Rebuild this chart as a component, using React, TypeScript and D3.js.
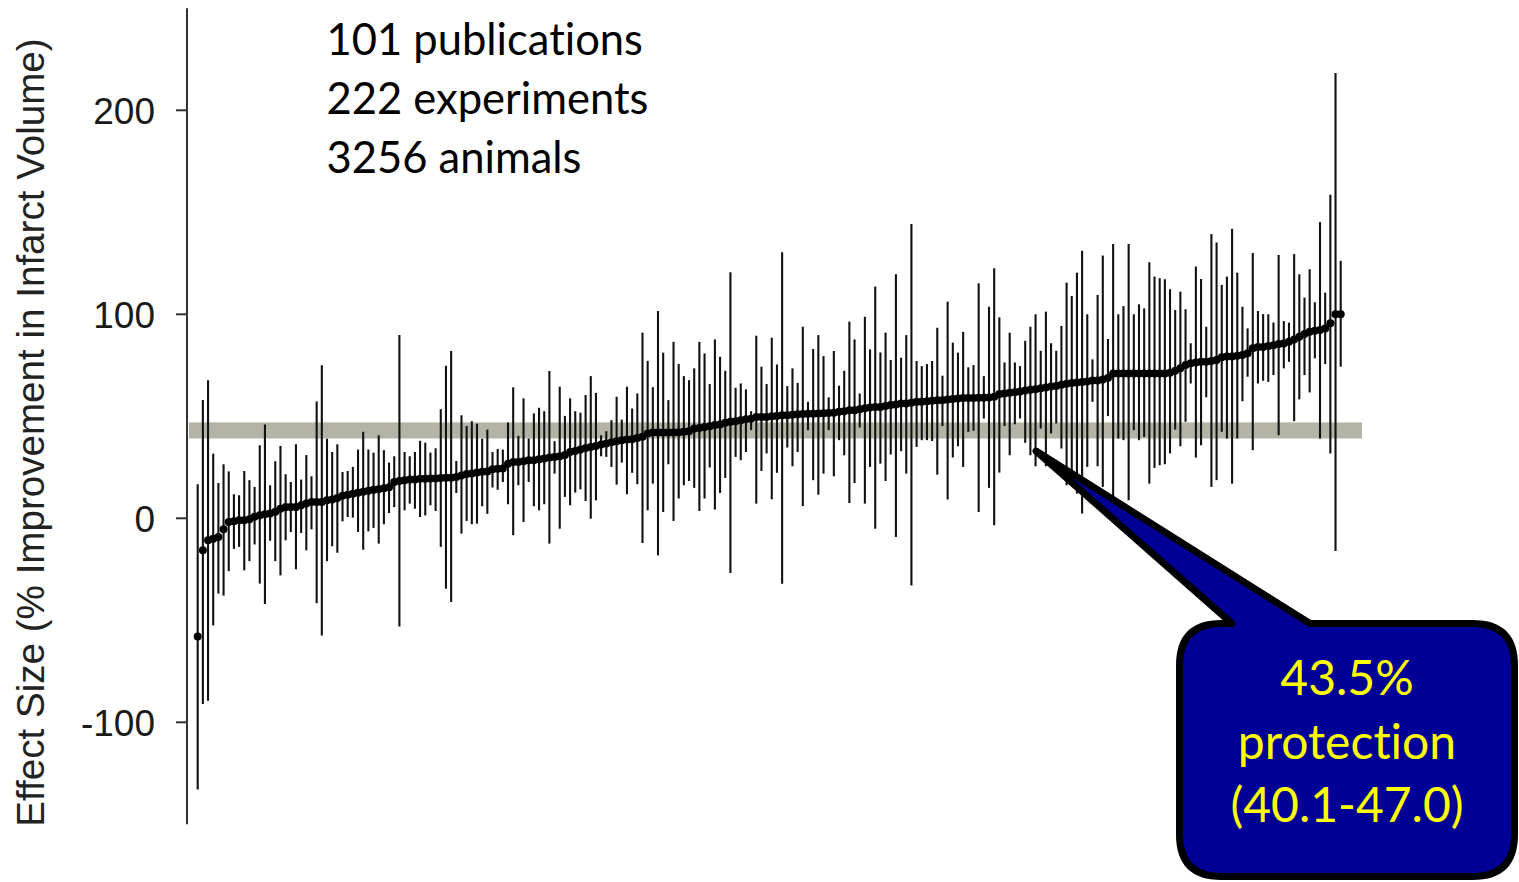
import React from "react";
import * as d3 from "d3";

// Per-experiment effect sizes (% improvement in infarct volume), ranked low → high
const effect: number[] = [
  -58, -15.7, -10.8, -10, -9.2, -5.4, -1.8, -1.5, -1, -1,
  -0.5, 0.7, 1.5, 2, 2.3, 3.2, 4.7, 5.5, 5.5, 5.5,
  6.4, 7.2, 8, 8, 8, 8.8, 9.2, 10, 11, 11.5,
  12, 12.5, 13, 13.5, 14, 14.3, 14.7, 15.2, 17.8, 18.3,
  18.7, 19, 19, 19.4, 19.4, 19.5, 19.5, 19.7, 19.9, 19.9,
  20.3, 21, 21.7, 22, 22.4, 22.8, 23, 24, 24.3, 24.4,
  26.8, 27.6, 27.6, 28, 28.5, 28.5, 29, 29.3, 29.8, 30.1,
  30.4, 31, 32.5, 33, 33.7, 34.5, 35, 35.5, 36.2, 36.7,
  37.3, 37.8, 38.2, 38.6, 38.8, 39.4, 40, 41.6, 42, 42,
  42, 42.1, 42.1, 42.2, 42.4, 42.7, 44, 44.3, 44.8, 45.1,
  45.7, 46, 46.8, 47.3, 47.6, 48.1, 48.6, 48.8, 49.7, 49.7,
  49.7, 50, 50.2, 50.5, 50.5, 50.8, 51, 51.1, 51.2, 51.3,
  51.4, 51.5, 51.6, 51.8, 52.2, 52.5, 53, 53, 53.5, 54,
  54.3, 54.5, 54.6, 55, 55.5, 55.8, 56.3, 56.3, 56.6, 57.1,
  57.1, 57.4, 57.6, 57.9, 57.9, 58.2, 58.5, 58.7, 59, 59,
  59, 59.1, 59.1, 59.2, 59.6, 60.9, 61.2, 61.5, 61.8, 62.1,
  62.6, 63, 63.2, 63.8, 64.1, 64.6, 64.9, 65.5, 66, 66.3,
  66.6, 66.8, 67.1, 67.5, 67.6, 68, 68.8, 71, 71, 71,
  71, 71, 71, 71, 71, 71, 71, 71, 71.3, 72.3,
  73.5, 75.1, 76, 76.4, 76.7, 76.7, 77.1, 77.6, 78.9, 79.3,
  79.3, 79.7, 80, 80.9, 83.3, 84, 84, 84.4, 84.8, 85.4,
  85.7, 86.6, 87.7, 89, 90.3, 91.5, 91.9, 92.3, 93.1, 95.6,
  100, 100,
];

// Lower 95% confidence limits
const lower: number[] = [
  -133, -91, -89.4, -52.5, -36.9, -37.9, -25.9, -15, -14, -25.5,
  -21, -12.8, -32, -42, -11, -21, -28, -10.8, -6.7, -25,
  -7.2, -15.7, -5.4, -41.6, -57.4, -21, -13.7, -16.9, -1.5, 0.6,
  0.3, -6.7, -15.4, -6.4, -4.7, -12.4, -2.9, 2.6, 5.5, -53,
  3.9, 7.2, 4.7, 0.6, 1.4, 6.4, 3.6, -14, -34.5, -41,
  12.4, -7.5, -1.3, -2.9, -2.6, 5.9, 2.2, 15.1, 14, 17.8,
  6.9, -8.3, 16.2, -1.8, 17.8, 5.9, 3.9, 6.9, -12.4, 21.9,
  -5.1, 10.5, 6.4, 12.6, 14.2, 8.5, -0.2, 8.8, 30.4, 30.1,
  25.2, 16.5, 27.3, 11.8, 22.3, 16.7, -12.1, 3.9, 17, -18.2,
  3.1, 26.5, -1.3, 9.7, 16.2, 18.3, 14.9, 3.6, 9.7, 24.9,
  4.3, 12.4, 19.8, -26.8, 30.1, 28.5, 32.5, 43.2, 7.2, 23.2,
  31.8, 9.3, 22.3, -32.1, 34.7, 25.5, 32.5, 6, 43.2, 18.7,
  11.6, 21.9, 43.2, 20.6, 38.3, 30.9, 7.5, 17.3, 44.5, 7.2,
  25.2, -5.1, 26.8, 18.3, 31.3, -9.2, 32.9, 21.9, -32.9, 35,
  38.3, 38.3, 37.9, 21.4, 45.2, 9.2, 29.8, 35.3, 25.2, 42.4,
  42.9, 3.1, 48.9, 14.9, -3.4, 22.4, 45.2, 30.9, 46.1, 48.9,
  37, 30.9, 25.5, 44, 25.5, 41.6, 46.5, 34.2, 16.2, 21.9,
  12.1, 2.3, 25.2, 57.1, 25.5, 15.4, 50.1, 2, 39.1, 38.3,
  8.8, 43.2, 38.3, 39.9, 17, 24.7, 26, 26.5, 31.8, 43.5,
  35.3, 47.3, 66.1, 29.8, 35.8, 59.3, 15.4, 18.7, 42.4, 39.1,
  17, 39.1, 57.4, 69.4, 33.4, 66.1, 67.4, 66.9, 70.2, 40.7,
  73.5, 76.7, 47.6, 58.3, 70.2, 61.7, 78.4, 39.1, 75.6, 31.8,
  -16, 74.3,
];

// Upper 95% confidence limits
const upper: number[] = [
  16.7, 58, 67.7, 31.7, 17.3, 26.5, 23, 11.8, 11.3, 23.2,
  18.7, 15.4, 35.8, 46, 16.2, 28, 35.5, 21.6, 17.8, 36.3,
  19, 31, 20.6, 57.3, 75, 39, 32.5, 36.3, 22.7, 23.2,
  25.2, 33.7, 42.4, 33.7, 32.2, 40.7, 33.4, 27.3, 30.4, 89.8,
  32.5, 30.4, 32.5, 38, 37.1, 32.2, 34.3, 53.5, 74.8, 82,
  28.1, 50.5, 45.2, 47.6, 46.4, 39, 43.5, 32.5, 34, 33.7,
  47, 64.2, 40.4, 58.8, 39.1, 51.4, 54.2, 52.5, 72.2, 37.8,
  64.5, 50.2, 58.8, 52.5, 51.8, 60.4, 69.7, 61.5, 40.7, 42.7,
  48.1, 59.6, 48.4, 64.5, 53.8, 61.2, 91, 77.2, 64.3, 101.6,
  81.2, 57.9, 86.5, 75.6, 69.7, 67.7, 73.5, 86.5, 80.8, 65.8,
  87.7, 79.2, 72.3, 120.6, 64, 66.1, 63.2, 52.5, 89.5, 74.3,
  65.8, 88.5, 75.4, 130.4, 64.8, 73.5, 66.4, 93.9, 57.1, 83,
  89.8, 79.5, 59.3, 82, 65, 72.3, 96.4, 87.7, 61.2, 98.8,
  82.8, 113.6, 81.3, 91, 77.6, 119.6, 78.7, 89.8, 144.3, 77.1,
  74.6, 75.6, 77.1, 93.4, 69.9, 106.2, 86.1, 81.2, 91.4, 74,
  75.1, 115.2, 69.7, 103.7, 122.6, 98.5, 76.4, 91, 76.4, 74.6,
  87, 93.9, 100, 82.1, 101.3, 85.8, 82.1, 94.3, 115.5, 109,
  120.4, 131.1, 100, 77.9, 109.5, 128.8, 87.9, 134.4, 100, 104,
  134.5, 100, 104.9, 102.9, 125.5, 118.5, 117.7, 117.2, 112.3, 102.1,
  111.1, 102.5, 85.8, 123.4, 117.3, 93.9, 139.3, 135.2, 114.4, 118.5,
  141.9, 120.4, 103.7, 93.1, 130, 101.6, 100.1, 100, 96, 129.1,
  96.7, 95.9, 129.5, 119.6, 108.2, 122.1, 105.9, 145.2, 110.6, 158.6,
  218.3, 126.2,
];

// Pooled estimate and its confidence interval
const pooled = { estimate: 43.5, low: 40.1, high: 47.0 };

const yTicks: number[] = [-100, 0, 100, 200];
const summaryLines: string[] = ["101 publications", "222 experiments", "3256 animals"];
const calloutLines: string[] = ["43.5%", "protection", "(40.1-47.0)"];
const yTitle = "Effect Size (% Improvement in Infarct Volume)";

const W = 1519;
const H = 882;

const noLigatures: React.CSSProperties = {
  fontVariantLigatures: "none",
  fontFeatureSettings: '"liga" 0, "clig" 0',
};

export default function App() {
  const y = d3.scaleLinear().domain([-150, 250]).range([824.3, 8.3]);
  const idx = d3.range(effect.length);
  const x = d3.scalePoint<number>().domain(idx).range([197.7, 1340.7]);
  const axisX = 187;

  // Speech-bubble callout: rounded box with a wedge pointing at the pooled estimate
  const bx0 = 1179.5, bx1 = 1514.5, by0 = 623.5, by1 = 876.5, r = 42;
  const tipX = 1036, tipY = 451;
  const calloutPath = [
    `M ${bx0 + r} ${by0}`,
    `L 1232 ${by0}`,
    `L ${tipX} ${tipY}`,
    `L 1310 ${by0}`,
    `L ${bx1 - r} ${by0}`,
    `Q ${bx1} ${by0} ${bx1} ${by0 + r}`,
    `L ${bx1} ${by1 - r}`,
    `Q ${bx1} ${by1} ${bx1 - r} ${by1}`,
    `L ${bx0 + r} ${by1}`,
    `Q ${bx0} ${by1} ${bx0} ${by1 - r}`,
    `L ${bx0} ${by0 + r}`,
    `Q ${bx0} ${by0} ${bx0 + r} ${by0}`,
    "Z",
  ].join(" ");

  return (
    <svg
      width={W}
      height={H}
      viewBox={`0 0 ${W} ${H}`}
      style={{ position: "absolute", left: 0, top: 0, background: "#ffffff" }}
    >
      {/* pooled-estimate confidence band */}
      <rect
        x={189}
        y={y(pooled.high)}
        width={1362 - 189}
        height={y(pooled.low) - y(pooled.high) + 2}
        fill="#b4b4a6"
      />

      {/* y axis */}
      <line x1={axisX} x2={axisX} y1={y(250)} y2={y(-150)} stroke="#333" strokeWidth={2} />
      {yTicks.map((t) => (
        <g key={t}>
          <line x1={axisX - 11} x2={axisX} y1={y(t)} y2={y(t)} stroke="#333" strokeWidth={2} />
          <text
            x={155}
            y={y(t)}
            dy="0.36em"
            textAnchor="end"
            fontFamily="'Liberation Sans', Arial, sans-serif"
            fontSize={37}
            fill="#1a1a1a"
          >
            {t}
          </text>
        </g>
      ))}
      <text
        transform={`translate(43.5, 432.5) rotate(-90)`}
        textAnchor="middle"
        fontFamily="'Liberation Sans', Arial, sans-serif"
        fontSize={38.6}
        fill="#222"
      >
        {yTitle}
      </text>

      {/* confidence intervals */}
      {idx.map((i) => (
        <line
          key={`ci${i}`}
          x1={x(i)}
          x2={x(i)}
          y1={y(upper[i])}
          y2={y(lower[i])}
          stroke="#111"
          strokeWidth={2.1}
        />
      ))}
      {/* point estimates */}
      {idx.map((i) => (
        <circle key={`pt${i}`} cx={x(i)} cy={y(effect[i])} r={4} fill="#000" />
      ))}

      {/* study summary */}
      {summaryLines.map((s, k) => (
        <text
          key={s}
          x={326.5}
          y={55 + k * 59}
          fontFamily="Lato, 'Open Sans', sans-serif"
          fontSize={43.5}
          fill="#000"
          style={noLigatures}
        >
          {s}
        </text>
      ))}

      {/* callout */}
      <path d={calloutPath} fill="#000096" stroke="#000" strokeWidth={7} strokeLinejoin="round" />
      {calloutLines.map((s, k) => (
        <text
          key={s}
          x={1347}
          y={695 + k * 63.5}
          textAnchor="middle"
          fontFamily="Lato, 'Open Sans', sans-serif"
          fontSize={48}
          fill="#ffff00"
          style={noLigatures}
        >
          {s}
        </text>
      ))}
    </svg>
  );
}
